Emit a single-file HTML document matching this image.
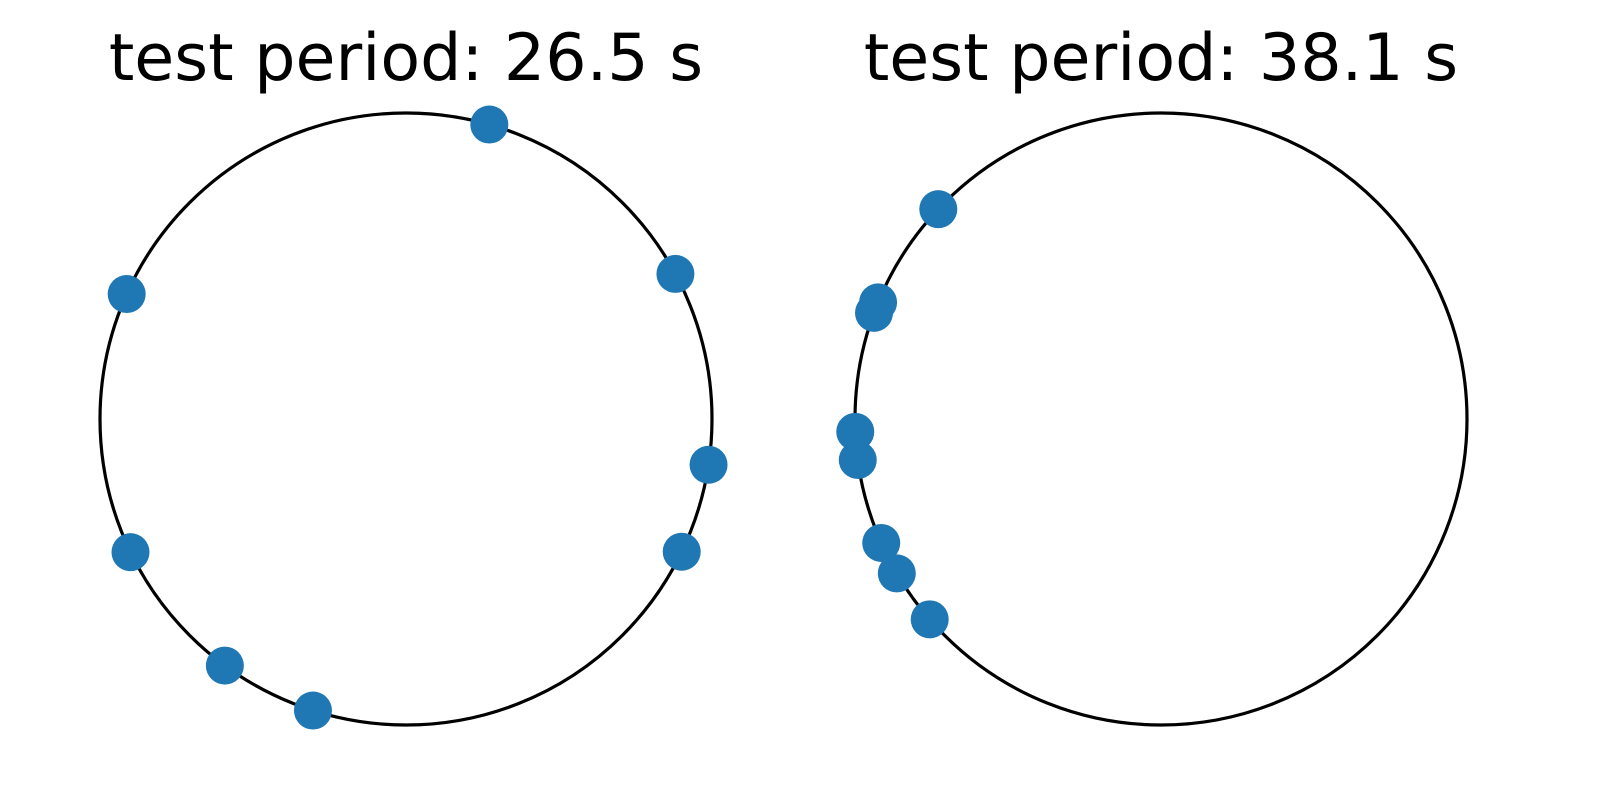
<!DOCTYPE html>
<html><head><meta charset="utf-8"><style>
body{margin:0;background:#fff}
svg{display:block}
</style></head><body>
<svg id="chart" width="1600" height="800" viewBox="0 0 1600 800">
<text x="406" y="80" font-family="DejaVu Sans, sans-serif" font-size="65" text-anchor="middle">test period: 26.5 s</text>
<text x="1161" y="80" font-family="DejaVu Sans, sans-serif" font-size="65" text-anchor="middle">test period: 38.1 s</text>
<circle cx="406" cy="419" r="306" fill="none" stroke="#000" stroke-width="3.2"/>
<circle cx="1161" cy="419" r="306" fill="none" stroke="#000" stroke-width="3.2"/>
<g id="pts"></g>
</svg>
<script>
const leftAngles = [74.2, 28.3, 155.9, 351.4, 334.3, 205.8, 233.7, 252.3];
const rightAngles = [136.7, 157.6, 159.7, 182.4, 187.7, 203.9, 210.3, 220.9];
const radius = 306;
const g = document.getElementById('pts');
function px(cx, deg){ return cx + radius*Math.cos(deg*Math.PI/180); }
function py(cy, deg){ return cy - radius*Math.sin(deg*Math.PI/180); }
function draw(cx, angles, side){
  angles.forEach(function(a){
    const c = document.createElementNS('http://www.w3.org/2000/svg','circle');
    c.setAttribute('cx', px(cx, a));
    c.setAttribute('cy', py(419, a));
    c.setAttribute('r', 19);
    c.setAttribute('fill', '#1f77b4');
    
    
    g.appendChild(c);
  });
}
draw(406, leftAngles, 'left');
draw(1161, rightAngles, 'right');
</script>
</body></html>
